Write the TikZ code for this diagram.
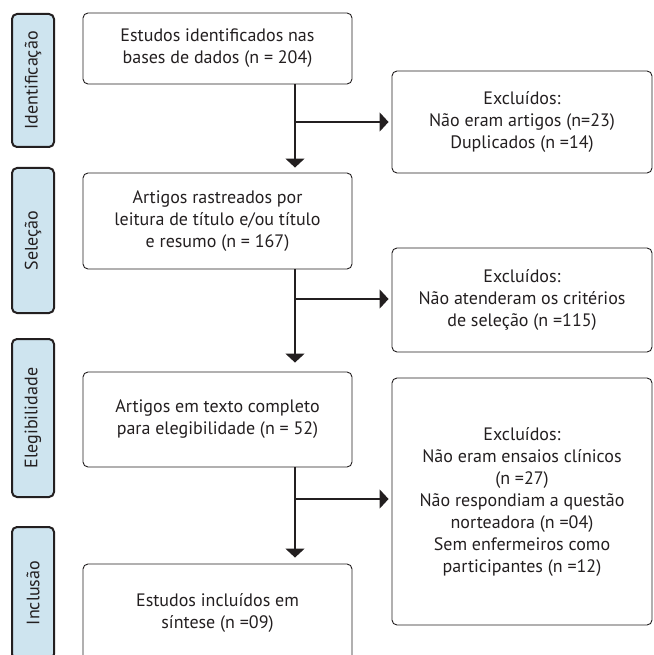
\documentclass[tikz,border=0pt]{standalone}
\usepackage{fontspec}
\setmainfont{PT Sans}
\usetikzlibrary{arrows.meta}
\definecolor{phasefill}{RGB}{206,228,239}
\definecolor{ink}{RGB}{35,31,32}
\begin{document}
\begin{tikzpicture}[x=1pt,y=-1pt,
  txt/.style={font=\fontsize{18}{22}\selectfont, text=ink, align=center},
  mainbox/.style={txt, draw=ink, line width=0.9pt, rounded corners=5pt, minimum width=269pt, inner sep=0pt},
  exclbox/.style={txt, draw=ink, line width=0.9pt, rounded corners=5pt, minimum width=260pt, inner sep=0pt},
  phase/.style={txt, draw=ink, fill=phasefill, line width=2pt, rounded corners=5pt, minimum width=42pt, inner sep=0pt},
  flow/.style={draw=ink, line width=1.8pt, -{Triangle[width=19pt,length=9pt]}}
]
\useasboundingbox (0,0) rectangle (653,655);
% phase labels
\node[phase, minimum height=133pt] (p1) at (33,80.5) {\rotatebox{90}{Identificação}};
\node[phase, minimum height=145pt] (p2) at (33,240.5) {\rotatebox{90}{Seleção}};
\node[phase, minimum height=158pt] (p3) at (33,418) {\rotatebox{90}{Elegibilidade}};
\node[phase, minimum height=132pt] (p4) at (33,593) {\rotatebox{90}{Inclusão}};
% main boxes
\node[mainbox, minimum height=71pt] (b1) at (217.5,48.5) {Estudos identificados nas\\bases de dados (n = 204)};
\node[mainbox, minimum height=96pt] (b2) at (217.5,221) {Artigos rastreados por\\leitura de título e/ou título\\e resumo (n = 167)};
\node[mainbox, minimum height=95pt] (b3) at (217.5,419.5) {Artigos em texto completo\\para elegibilidade (n = 52)};
\node[mainbox, minimum height=98pt] (b4) at (217.5,613) {Estudos incluídos em\\síntese (n =09)};
% exclusion boxes
\node[exclbox, minimum height=102pt] (e1) at (522,122) {Excluídos:\\Não eram artigos (n=23)\\Duplicados (n =14)};
\node[exclbox, minimum height=104pt] (e2) at (522,300) {Excluídos:\\Não atenderam os critérios\\de seleção (n =115)};
\node[exclbox, minimum height=247pt] (e3) at (522,501.5) {Excluídos:\\Não eram ensaios clínicos\\(n =27)\\Não respondiam a questão\\norteadora (n =04)\\Sem enfermeiros como\\participantes (n =12)};
% vertical flows
\draw[flow, shorten >=5pt] (b1.south -| 295,0) -- (b2.north -| 295,0);
\draw[flow, shorten >=9pt] (b2.south -| 295,0) -- (b3.north -| 295,0);
\draw[flow, shorten >=6pt] (b3.south -| 295,0) -- (b4.north -| 295,0);
% horizontal branches
\coordinate (h1) at (295,122);
\coordinate (h2) at (295,299);
\coordinate (h3) at (295,499);
\draw[flow, shorten >=3pt] (h1) -- (h1 -| e1.west);
\draw[flow, shorten >=3pt] (h2) -- (h2 -| e2.west);
\draw[flow, shorten >=3pt] (h3) -- (h3 -| e3.west);
\end{tikzpicture}
\end{document}
